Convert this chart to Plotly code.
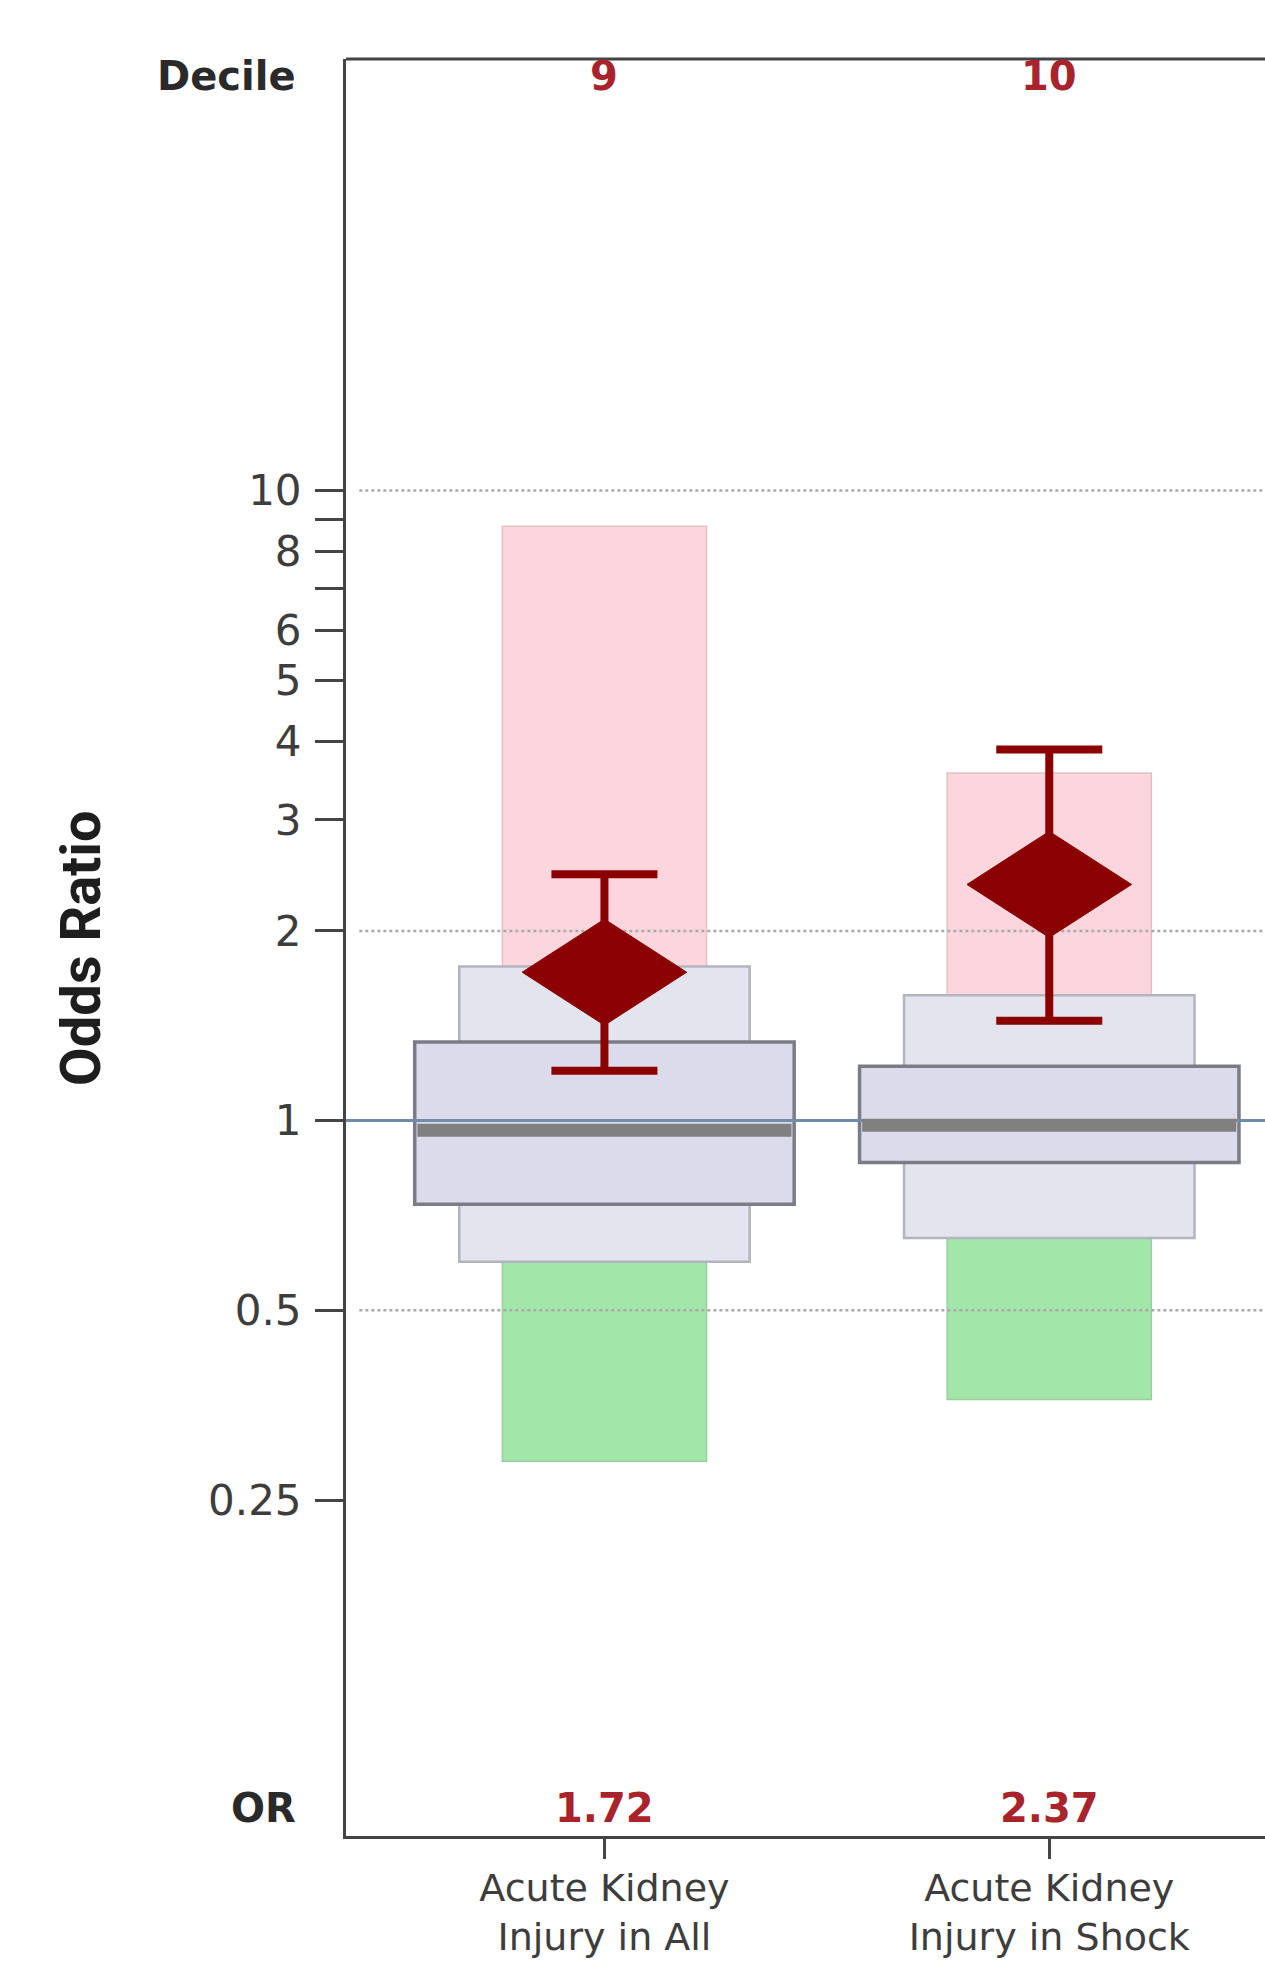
import plotly.graph_objects as go

# ---------------- data ----------------
categories = ["Acute Kidney<br>Injury in All", "Acute Kidney<br>Injury in Shock"]
deciles = ["9", "10"]
or_labels = ["1.72", "2.37"]
odds_ratio = [1.72, 2.37]
ci_lower = [1.20, 1.44]
ci_upper = [2.46, 3.88]

# reference distribution bands
band_low_outer = [0.288, 0.361]   # green bottom
band_low_mid = [0.597, 0.651]     # light box bottom
band_low_inner = [0.737, 0.858]   # inner box bottom
band_median = [0.965, 0.983]
band_high_inner = [1.333, 1.220]  # inner box top
band_high_mid = [1.756, 1.581]    # light box top
band_high_outer = [8.77, 3.56]    # pink top

y_tickvals = [0.25, 0.5, 1, 2, 3, 4, 5, 6, 7, 8, 9, 10]
y_ticktext = ["0.25", "0.5", "1", "2", "3", "4", "5", "6", "", "8", "", "10"]
grid_values = [0.5, 2, 10]
ref_value = 1

# ---------------- style ----------------
XR = [-0.581, 1.485]
YR = [-1.1352, 1.6846]
W_COLOR = 0.459
W_LIGHT = 0.653
W_INNER = 0.853
DIAMOND_HW = 0.185
DIAMOND_K = 1.2138
DARKRED = "#8b0000"
AXIS = "#444444"
FONT = "DejaVu Sans"

xs = list(range(len(categories)))

fig = go.Figure()

# reference line at OR = 1 (behind boxes)
fig.add_trace(go.Scatter(x=[XR[0], XR[1]], y=[ref_value, ref_value], mode="lines",
                         line=dict(color="#6f8cab", width=3), hoverinfo="skip"))

def band(lo, hi, width, fill, edge, lw):
    fig.add_trace(go.Bar(
        x=xs, base=lo, y=[h - l for h, l in zip(hi, lo)], width=[width] * len(xs),
        marker=dict(color=fill, line=dict(color=edge, width=lw)), hoverinfo="skip"))

band(band_high_mid, band_high_outer, W_COLOR, "#fdd5dc", "#dfc2c7", 1.5)
band(band_low_outer, band_low_mid, W_COLOR, "#a3e6a9", "#98cf9d", 1.5)
band(band_low_mid, band_high_mid, W_LIGHT, "#e4e4ef", "#b4b4c0", 2.5)
band(band_low_inner, band_high_inner, W_INNER, "#dcdbeb", "#7c7c86", 3.5)

# median lines
mx, my = [], []
for i, m in zip(xs, band_median):
    mx += [i - W_INNER / 2 + 0.006, i + W_INNER / 2 - 0.006, None]
    my += [m, m, None]
fig.add_trace(go.Scatter(x=mx, y=my, mode="lines", line=dict(color="#808080", width=13),
                         hoverinfo="skip"))

# dotted gridlines
for g in grid_values:
    fig.add_trace(go.Scatter(x=[XR[0] + 0.03, XR[1]], y=[g, g], mode="lines",
                             line=dict(color="#a9a9a9", width=2.5, dash="dot"), hoverinfo="skip"))

# confidence intervals
fig.add_trace(go.Scatter(
    x=xs, y=odds_ratio, mode="markers", marker=dict(size=1, color=DARKRED),
    error_y=dict(type="data", symmetric=False,
                 array=[u - o for u, o in zip(ci_upper, odds_ratio)],
                 arrayminus=[o - l for o, l in zip(odds_ratio, ci_lower)],
                 color=DARKRED, thickness=8, width=53),
    hoverinfo="skip"))

# diamonds
for i, o in zip(xs, odds_ratio):
    fig.add_trace(go.Scatter(
        x=[i - DIAMOND_HW, i, i + DIAMOND_HW, i, i - DIAMOND_HW],
        y=[o, o * DIAMOND_K, o, o / DIAMOND_K, o],
        mode="lines", fill="toself", fillcolor=DARKRED, line=dict(color=DARKRED, width=1),
        hoverinfo="skip"))

# top border
fig.add_shape(type="line", xref="paper", yref="paper", x0=0, x1=1, y0=1, y1=1,
              line=dict(color=AXIS, width=3))

LBL = dict(family=FONT, size=40, color="#2a2a2a", weight="bold")
RED = dict(family=FONT, size=40, color="#a8232b", weight="bold")
ann = []
ann.append(dict(text="Decile", xref="paper", yref="paper", x=-0.052, y=0.9905,
                xanchor="right", yanchor="middle", showarrow=False, font=LBL))
ann.append(dict(text="OR", xref="paper", yref="paper", x=-0.052, y=0.0157,
                xanchor="right", yanchor="middle", showarrow=False, font=LBL))
for i, d, o in zip(xs, deciles, or_labels):
    ann.append(dict(text=d, x=i, xref="x", yref="paper", y=0.9905, yanchor="middle",
                    showarrow=False, font=RED))
    ann.append(dict(text=o, x=i, xref="x", yref="paper", y=0.0157, yanchor="middle",
                    showarrow=False, font=RED))
ann.append(dict(text="Odds Ratio", xref="paper", yref="paper", x=-0.289, y=0.5,
                xanchor="center", yanchor="middle", textangle=-90, showarrow=False,
                font=dict(family="Liberation Sans Narrow, Roboto", size=56, color="#1e1e1e",
                          weight="bold")))

fig.update_layout(
    width=1265, height=1962,
    margin=dict(l=346, r=0, t=59, b=126, autoexpand=False),
    paper_bgcolor="white", plot_bgcolor="white",
    showlegend=False, barmode="overlay",
    annotations=ann,
    xaxis=dict(range=XR, tickvals=xs, ticktext=categories, showgrid=False, zeroline=False,
               automargin=False,
               showline=True, linecolor=AXIS, linewidth=3, ticks="outside", ticklen=20,
               tickwidth=3, tickcolor=AXIS, ticklabelstandoff=-4,
               tickfont=dict(family=FONT, size=38, color="#3d3d3d")),
    yaxis=dict(type="log", range=YR, tickvals=y_tickvals, ticktext=y_ticktext,
               automargin=False,
               showgrid=False, zeroline=False, showline=True, linecolor=AXIS, linewidth=3,
               ticks="outside", ticklen=28, tickwidth=3, tickcolor=AXIS,
               ticklabelstandoff=5,
               tickfont=dict(family=FONT, size=42, color="#3d3d3d")),
)

fig.write_html("out.html", config={"displayModeBar": False},
               post_script="document.body.style.margin='0';")
